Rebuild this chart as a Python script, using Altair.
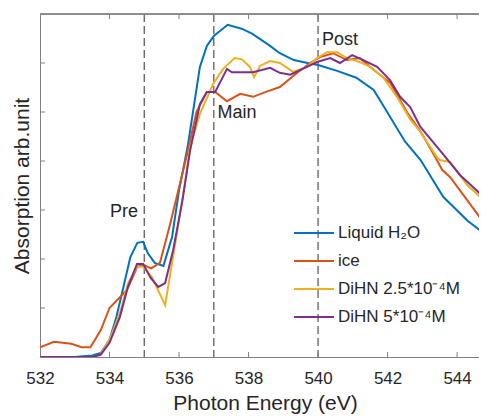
import altair as alt
import pandas as pd

# ---- data ----
series_names = ["Liquid H₂O", "ice", "DiHN 2.5*10⁻⁴M", "DiHN 5*10⁻⁴M"]
series_colors = ["#0072BD", "#D95319", "#EDB120", "#7E2F8E"]

energy_h2o = [532.0, 533.0, 533.5, 533.75, 534.0, 534.2, 534.4, 534.6, 534.8, 534.97, 535.1, 535.3,
              535.55, 535.8, 536.0, 536.25, 536.6, 536.8, 537.0, 537.4, 537.8, 538.1, 538.6, 538.9,
              539.3, 539.7, 540.0, 540.55, 541.1, 541.6, 541.9, 542.5, 542.95, 543.6, 544.3, 545.0]
absorb_h2o = [0.0, 0.0, 0.03, 0.08, 0.35, 0.82, 1.43, 2.04, 2.33, 2.35, 2.12, 1.92,
              1.86, 2.45, 3.4, 4.3, 5.92, 6.35, 6.55, 6.78, 6.7, 6.6, 6.36, 6.2,
              6.06, 6.0, 5.96, 5.84, 5.7, 5.45, 5.1, 4.4, 4.02, 3.27, 2.78, 2.4]

energy_ice = [532.0, 532.4, 532.9, 533.2, 533.45, 533.75, 534.0, 534.3, 534.5, 534.8, 534.97, 535.2,
              535.45, 535.75, 536.03, 536.26, 536.5, 536.8, 537.04, 537.38, 537.76, 538.13, 538.5,
              538.9, 539.4, 539.77, 540.06, 540.43, 540.83, 541.2, 541.5, 542.07, 542.6, 542.95,
              543.37, 543.57, 543.8, 544.29, 544.86, 545.0]
absorb_ice = [0.2, 0.31, 0.27, 0.2, 0.2, 0.55, 1.0, 1.22, 1.37, 1.84, 1.88, 1.81,
              1.92, 2.73, 3.55, 4.22, 5.0, 5.41, 5.41, 5.22, 5.37, 5.31, 5.41,
              5.51, 5.8, 6.0, 6.12, 6.2, 6.06, 6.1, 5.92, 5.6, 4.95, 4.6,
              4.08, 3.82, 3.67, 3.2, 2.65, 2.55]

energy_dihn25 = [532.0, 533.0, 533.5, 533.73, 534.0, 534.3, 534.53, 534.79, 534.97, 535.22, 535.6,
                 535.94, 536.17, 536.32, 536.6, 536.98, 537.27, 537.6, 537.8, 538.04, 538.16, 538.33,
                 538.62, 538.9, 539.28, 539.68, 539.97, 540.26, 540.55, 540.83, 541.2, 541.5, 541.87,
                 542.27, 542.65, 542.94, 543.42, 543.5, 543.8, 544.29, 544.86, 545.0]
absorb_dihn25 = [0.0, 0.0, 0.0, 0.04, 0.35, 0.9, 1.5, 1.84, 1.84, 1.63, 1.06,
                 2.53, 3.55, 4.29, 4.96, 5.57, 5.88, 6.1, 6.08, 5.92, 5.71, 5.94,
                 6.04, 6.0, 5.82, 5.92, 6.1, 6.22, 6.22, 6.1, 6.02, 5.92, 5.71,
                 5.31, 4.85, 4.6, 4.08, 4.02, 3.98, 3.51, 3.14, 3.05]

energy_dihn5 = [532.0, 533.0, 533.5, 533.75, 534.0, 534.3, 534.53, 534.79, 534.97, 535.17, 535.4,
                535.6, 535.83, 536.1, 536.32, 536.6, 536.8, 537.04, 537.38, 537.52, 538.13, 538.62,
                538.9, 539.2, 539.68, 539.97, 540.35, 540.63, 540.98, 541.3, 541.7, 542.07, 542.36,
                542.65, 542.94, 543.5, 544.09, 544.86, 545.0]
absorb_dihn5 = [0.0, 0.0, 0.0, 0.05, 0.29, 0.82, 1.43, 1.9, 1.9, 1.63, 1.43,
                1.51, 2.18, 3.2, 4.22, 5.16, 5.41, 5.41, 5.88, 5.81, 5.81, 5.9,
                5.8, 5.76, 5.92, 6.02, 6.1, 6.0, 6.16, 6.06, 5.92, 5.65, 5.31,
                5.1, 4.7, 4.22, 3.71, 3.2, 3.1]

marker_energies = [535, 537, 540]
ann_text = ["Pre", "Main", "Post"]
ann_energy = [534.42, 537.67, 540.63]
ann_value = [2.96, 4.98, 6.47]

x_ticks = [532, 534, 536, 538, 540, 542, 544]
y_ticks = [1, 2, 3, 4, 5, 6]

# ---- tables ----
rows = []
for name, es, vs in zip(series_names,
                        [energy_h2o, energy_ice, energy_dihn25, energy_dihn5],
                        [absorb_h2o, absorb_ice, absorb_dihn25, absorb_dihn5]):
    for i, (e, v) in enumerate(zip(es, vs)):
        rows.append({"series": name, "energy": e, "absorption": v, "idx": i})
df = pd.DataFrame(rows)
df_mark = pd.DataFrame({"energy": marker_energies})
df_ann = pd.DataFrame({"label": ann_text, "energy": ann_energy, "absorption": ann_value})
df_xt = pd.DataFrame({"energy": x_ticks[1:]})
df_yt = pd.DataFrame({"absorption": y_ticks})

W, H = 439, 343
FONT = "Liberation Sans"
AX = "#808080"
TXT = "#262626"

xscale = alt.Scale(domain=[532, 544.63], nice=False, zero=False)
yscale = alt.Scale(domain=[0, 7], nice=False)

x_enc = alt.X("energy:Q", scale=xscale,
              axis=alt.Axis(values=x_ticks, format="d", title="Photon Energy (eV)",
                            ticks=False, labelFontSize=17, labelPadding=13, labelFlush=False,
                            labelColor=TXT, labelFont=FONT, grid=False,
                            domainColor=AX, titleFontSize=21, titleFont=FONT,
                            titleFontWeight="normal", titleColor=TXT,
                            titleX=225, titleY=52, titleBaseline="alphabetic"))
y_enc = alt.Y("absorption:Q", scale=yscale,
              axis=alt.Axis(labels=False, ticks=False, grid=False, domainColor=AX,
                            title="Absorption arb.unit", titleFontSize=21, titleFont=FONT,
                            titleFontWeight="normal", titleColor=TXT,
                            titleX=-18, titleY=H / 2, titleAngle=270,
                            titleBaseline="middle", titleAlign="center"))

dashes = alt.Chart(df_mark).mark_rule(color="#6a6a6a", strokeDash=[8, 4], strokeWidth=1.4).encode(
    x=alt.X("energy:Q", scale=xscale)
)

lines = alt.Chart(df).mark_line(strokeWidth=2, clip=True).encode(
    x=x_enc,
    y=y_enc,
    color=alt.Color("series:N", sort=series_names,
                    scale=alt.Scale(domain=series_names, range=series_colors),
                    legend=alt.Legend(orient="none", legendX=263, legendY=208, title=None,
                                      symbolType="M-2,0H2", symbolSize=400,
                                      symbolStrokeWidth=2, labelFontSize=17, labelFont=FONT,
                                      labelColor=TXT, labelOffset=13, rowPadding=9,
                                      padding=0)),
    order="idx:Q",
)

ann = alt.Chart(df_ann).mark_text(fontSize=18, font=FONT, color=TXT, align="center",
                                  baseline="middle").encode(
    x=alt.X("energy:Q", scale=xscale),
    y=alt.Y("absorption:Q", scale=yscale),
    text="label:N",
)

top_line = alt.Chart(df_mark).mark_rule(color=AX, strokeWidth=1).encode(
    x=alt.value(0), x2=alt.value(W), y=alt.value(0)
)
top_ticks = alt.Chart(df_xt).mark_rule(color=AX).encode(
    x=alt.X("energy:Q", scale=xscale), y=alt.value(0), y2=alt.value(5)
)
bot_ticks = alt.Chart(df_xt).mark_rule(color=AX).encode(
    x=alt.X("energy:Q", scale=xscale), y=alt.value(H), y2=alt.value(H - 5)
)
left_ticks = alt.Chart(df_yt).mark_rule(color=AX).encode(
    y=alt.Y("absorption:Q", scale=yscale), x=alt.value(0), x2=alt.value(5)
)

chart = alt.layer(dashes, lines, ann, top_line, top_ticks, bot_ticks, left_ticks).properties(
    width=W, height=H,
    autosize=alt.AutoSizeParams(type="none"),
    padding={"left": 32, "top": 6, "right": 0, "bottom": 59},
).configure_view(stroke=None).configure(background="white")

chart.save("out.html", embed_options={"renderer": "svg", "actions": False})
